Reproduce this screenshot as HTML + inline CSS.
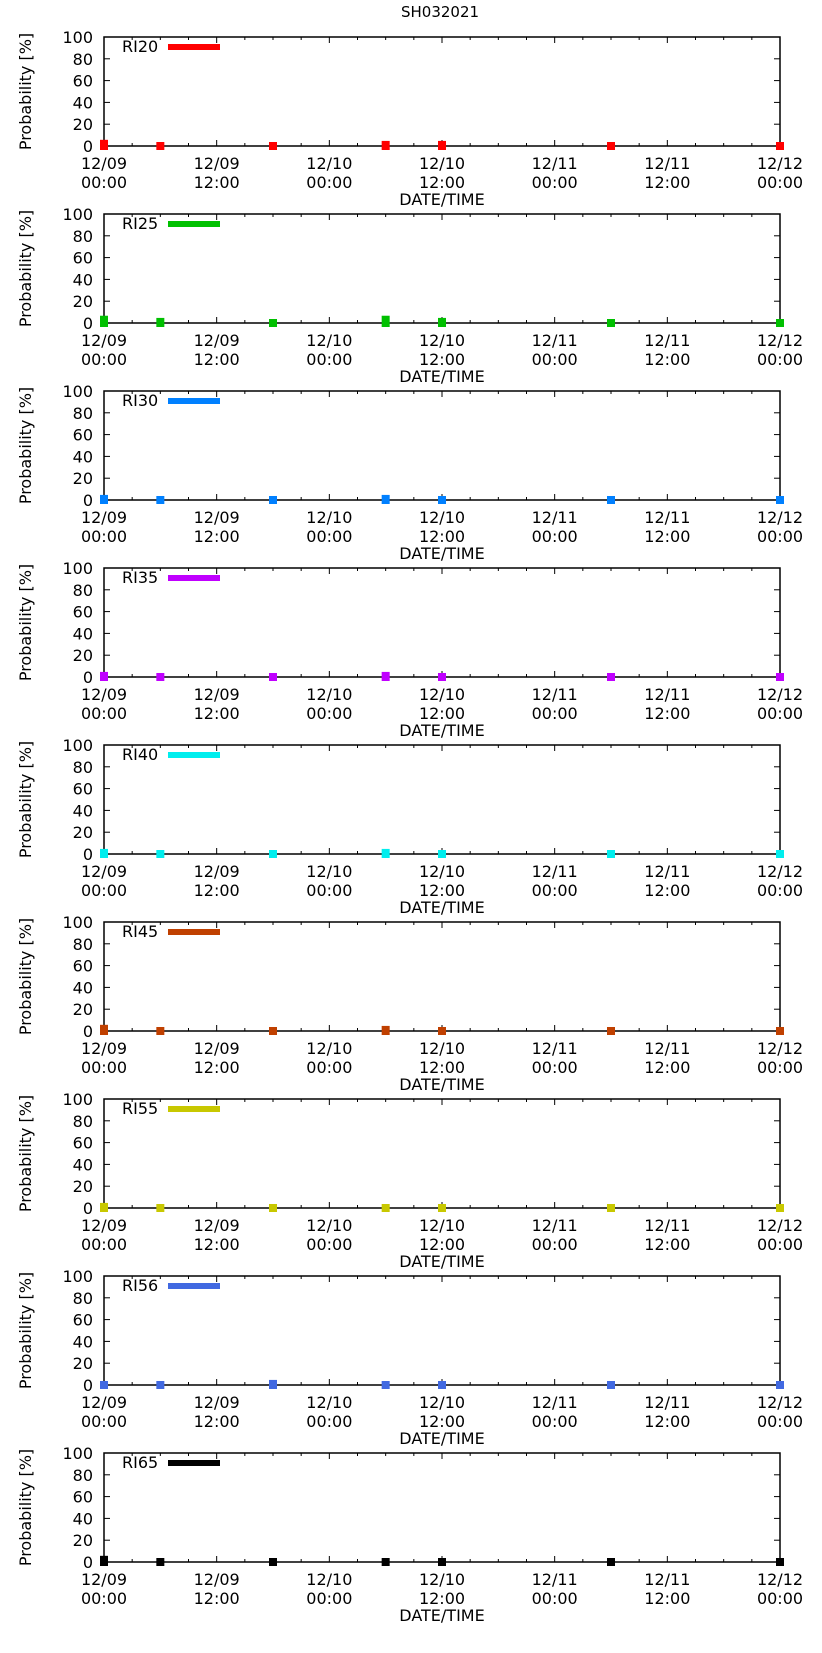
<!DOCTYPE html>
<html><head><meta charset="utf-8"><style>
html,body{margin:0;padding:0;background:#fff}
svg{display:block;font-family:"DejaVu Sans","Liberation Sans",sans-serif}
</style></head><body>
<svg id="c" width="822" height="1653" viewBox="0 0 822 1653">
<text x="440" y="17" font-size="15" text-anchor="middle">SH032021</text>
</svg>
<script>
const seriesNames = ["RI20","RI25","RI30","RI35","RI40","RI45","RI55","RI56","RI65"];
const seriesColors = ["#ff0000","#00c000","#0080ff","#c000ff","#00eeee","#c04000","#c8c800","#4169e1","#000000"];
const hours = [0,6,18,30,36,54,72];
const ri20 = [2,0,0,1,1,0,0];
const ri25 = [3,1,0,3,1,0,0];
const ri30 = [1,0,0,1,0,0,0];
const ri35 = [1,0,0,1,0,0,0];
const ri40 = [1,0,0,1,0,0,0];
const ri45 = [2,0,0,1,0,0,0];
const ri55 = [1,0,0,0,0,0,0];
const ri56 = [0,0,1,0,0,0,0];
const ri65 = [2,0,0,0,0,0,0];
const seriesValues = [ri20,ri25,ri30,ri35,ri40,ri45,ri55,ri56,ri65];
const yTicks = [0,20,40,60,80,100];
const xTickHours = [0,12,24,36,48,60,72];
const xTickDates = ["12/09","12/09","12/10","12/10","12/11","12/11","12/12"];
const xTickTimes = ["00:00","12:00","00:00","12:00","00:00","12:00","00:00"];

const NS="http://www.w3.org/2000/svg";
const svg=document.getElementById('c');
const L=104,R=780,H=109,TOP0=37,STEP=177;
function mk(tag,attrs,parent){const e=document.createElementNS(NS,tag);for(const k in attrs)e.setAttribute(k,attrs[k]);parent.appendChild(e);return e;}
const xs=h=>L+(h-0)/(72-0)*(R-L);

seriesNames.forEach((name,i)=>{
  const top=TOP0+i*STEP, bot=top+H;
  const ys=v=>bot-v/100*H;
  const g=mk('g',{},svg);
  
  
  const fr=mk('rect',{x:L,y:top,width:R-L,height:H,fill:'none',stroke:'#000','stroke-width':1.5},g);
  
  
  // y ticks
  yTicks.forEach(t=>{
    const y=ys(t);
    mk('line',{x1:L,x2:L+6,y1:y,y2:y,stroke:'#000'},g);
    mk('line',{x1:R-6,x2:R,y1:y,y2:y,stroke:'#000'},g);
    const tx=mk('text',{x:93,y:y+6,'font-size':16,'text-anchor':'end'},g);
    tx.textContent=t;
    
    
  });
  // x ticks (minor every 3h)
  for(let h=0;h<=72;h+=3){
    const x=xs(h), len=(h%12===0)?6:3;
    mk('line',{x1:x,x2:x,y1:bot,y2:bot-len,stroke:'#000'},g);
    mk('line',{x1:x,x2:x,y1:top,y2:top+len,stroke:'#000'},g);
  }
  xTickHours.forEach((h,j)=>{
    const t1=mk('text',{x:xs(h),y:bot+23,'font-size':16,'text-anchor':'middle'},g);
    t1.textContent=xTickDates[j];
    
    
    const t2=mk('text',{x:xs(h),y:bot+42,'font-size':16,'text-anchor':'middle'},g);
    t2.textContent=xTickTimes[j];
    
    
  });
  const xt=mk('text',{x:442,y:bot+59,'font-size':16,'text-anchor':'middle'},g);
  xt.textContent='DATE/TIME';
  
  
  const yc=(top+bot)/2;
  const yt=mk('text',{x:0,y:0,'font-size':16,'text-anchor':'middle',transform:`translate(31,${yc}) rotate(-90)`},g);
  yt.textContent='Probability [%]';
  
  
  // legend
  const lt=mk('text',{x:122,y:top+15,'font-size':16},g);
  lt.textContent=name;
  
  
  const ll=mk('rect',{x:168,y:top+7,width:52,height:6,fill:seriesColors[i]},g);
  
  
  // markers
  seriesValues[i].forEach((v,j)=>{
    const x=xs(hours[j]), y0=ys(0), yv=ys(v);
    const m=mk('rect',{x:x-4,y:yv-4,width:8,height:8+(y0-yv),fill:seriesColors[i]},g);
    
    
  });
});
</script>
</body></html>
